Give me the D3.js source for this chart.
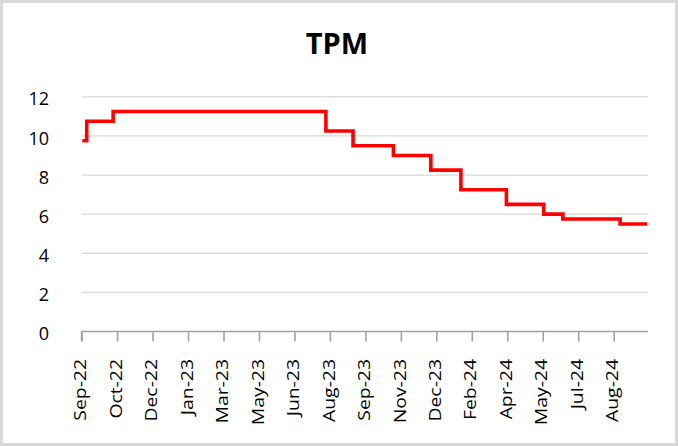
<!DOCTYPE html>
<html>
<head>
<meta charset="utf-8">
<script src="https://cdn.jsdelivr.net/npm/d3@7"></script>
<style>
  html, body { margin: 0; padding: 0; background: #fff; }
  svg { display: block; }
</style>
</head>
<body>
<script>
// ---- data ----
const title = "TPM";
// dates at which the rate takes a new value (step changes)
const stepDates = ["2022-09-02","2022-09-08","2022-10-14","2023-07-31","2023-09-06","2023-10-31",
                   "2023-12-21","2024-01-31","2024-04-02","2024-05-23","2024-06-18","2024-09-04","2024-10-11"];
const stepValues = [9.75, 10.75, 11.25, 10.25, 9.5, 9.0, 8.25, 7.25, 6.5, 6.0, 5.75, 5.5, 5.5];
const xTickLabels = ["Sep-22","Oct-22","Dec-22","Jan-23","Mar-23","May-23","Jun-23","Aug-23",
                     "Sep-23","Nov-23","Dec-23","Feb-24","Apr-24","May-24","Jul-24","Aug-24"];
const yTicks = [0, 2, 4, 6, 8, 10, 12];
const axisStart = "2022-09-01";
const axisEnd = "2024-10-12";
const tickIntervalDays = 48.35;

// ---- layout ----
const W = 678, H = 446;
const M = { left: 81.6, right: 648, top: 96.8, bottom: 331.5 };

const parse = d3.utcParse("%Y-%m-%d");
const data = stepDates.map((d, i) => ({ date: parse(d), value: stepValues[i] }));

const x = d3.scaleUtc().domain([parse(axisStart), parse(axisEnd)]).range([M.left, M.right]);
const y = d3.scaleLinear().domain([0, 12]).range([M.bottom, M.top]);

const svg = d3.select("body").append("svg").attr("width", W).attr("height", H);

svg.append("rect").attr("x", 1.5).attr("y", 1.5).attr("width", W - 3).attr("height", H - 3)
  .attr("fill", "#fff").attr("stroke", "#d9d9d9").attr("stroke-width", 3);

svg.append("text").attr("x", 337).attr("y", 53.5).attr("text-anchor", "middle")
  .attr("font-family", "'Open Sans', sans-serif").attr("font-weight", 700).attr("font-size", 29)
  .attr("fill", "#000").text(title);

// gridlines
svg.append("g").selectAll("line").data(yTicks.filter(d => d > 0)).join("line")
  .attr("x1", M.left).attr("x2", M.right)
  .attr("y1", d => y(d)).attr("y2", d => y(d))
  .attr("stroke", "#d9d9d9").attr("stroke-width", 1.3);

// y labels
svg.append("g").selectAll("text").data(yTicks).join("text")
  .attr("x", 49).attr("y", d => y(d)).attr("dy", "0.48em")
  .attr("text-anchor", "end")
  .attr("font-family", "'Open Sans', sans-serif").attr("font-size", 18).attr("fill", "#000")
  .text(d => d);

// x axis
const t0 = parse(axisStart).getTime();
const tickDates = xTickLabels.map((l, i) => new Date(t0 + i * tickIntervalDays * 864e5));
const xAxis = d3.axisBottom(x).tickValues(tickDates).tickSize(10).tickFormat("");
const gx = svg.append("g").attr("transform", `translate(0,${M.bottom})`).call(xAxis);
gx.select(".domain").attr("stroke", "#a0a0a0").attr("stroke-width", 1.6)
  .attr("d", `M${M.left},10V0H${M.right}`);
gx.selectAll(".tick line").attr("stroke", "#a0a0a0").attr("stroke-width", 1.6);

svg.append("g").selectAll("text").data(tickDates).join("text")
  .attr("transform", (d) => `translate(${x(d)},359) rotate(-90) scale(1.25,1)`)
  .attr("dy", "0.3em")
  .attr("text-anchor", "end")
  .attr("font-family", "'Open Sans', sans-serif").attr("font-size", 15.5).attr("fill", "#000")
  .text((d, i) => xTickLabels[i]);

// step line
const line = d3.line().x(d => x(d.date)).y(d => y(d.value)).curve(d3.curveStepAfter);
svg.append("path").datum(data).attr("d", line)
  .attr("fill", "none").attr("stroke", "#ff0000").attr("stroke-width", 3.6)
  .attr("stroke-linejoin", "miter");
</script>
</body>
</html>
